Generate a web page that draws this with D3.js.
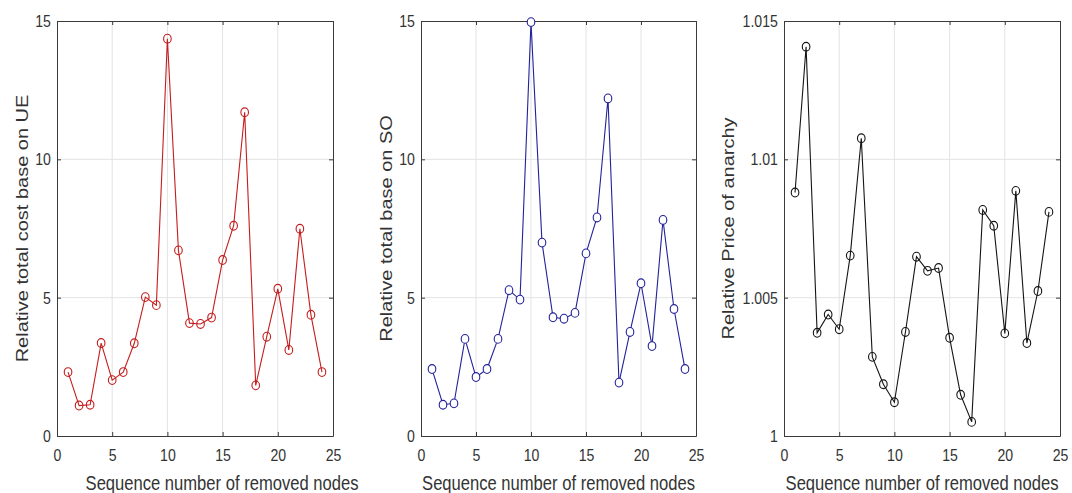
<!DOCTYPE html>
<html>
<head>
<meta charset="utf-8">
<script src="https://cdn.jsdelivr.net/npm/d3@7"></script>
<style>
  body { margin: 0; background: #fff; }
  svg { display: block; }
  text { font-family: "Liberation Sans", Arial, Helvetica, sans-serif; fill: #333; }
</style>
</head>
<body>
<svg id="chart" width="1072" height="493"></svg>
<script>
// Sequence number of each removed node
const nodeSeq = [1, 2, 3, 4, 5, 6, 7, 8, 9, 10, 11, 12, 13, 14, 15, 16, 17, 18, 19, 20, 21, 22, 23, 24];

// Relative total cost under user equilibrium (UE)
const costUE = [2.31, 1.10, 1.13, 3.36, 2.02, 2.31, 3.35, 5.02, 4.73, 14.36, 6.71, 4.08,
                4.05, 4.28, 6.36, 7.60, 11.70, 1.83, 3.59, 5.32, 3.11, 7.49, 4.38, 2.31];

// Relative total cost under system optimum (SO)
const costSO = [2.42, 1.13, 1.18, 3.51, 2.13, 2.42, 3.51, 5.27, 4.93, 14.96, 6.99, 4.29,
                4.24, 4.45, 6.60, 7.90, 12.20, 1.93, 3.76, 5.52, 3.25, 7.81, 4.59, 2.42];

// Relative price of anarchy
const priceAnarchy = [1.0088, 1.01407, 1.00373, 1.00439, 1.00386, 1.00652, 1.01076, 1.00286,
                      1.00187, 1.00122, 1.00376, 1.00648, 1.00597, 1.00607, 1.00355, 1.00149,
                      1.00051, 1.00817, 1.0076, 1.00371, 1.00886, 1.00336, 1.00524, 1.0081];

// Tick values and labels
const xTicks = [0, 5, 10, 15, 20, 25];
const xTickLabels = ["0", "5", "10", "15", "20", "25"];
const yTicksCost = [0, 5, 10, 15];
const yTickLabelsCost = ["0", "5", "10", "15"];
const yTicksPoA = [1, 1.005, 1.01, 1.015];
const yTickLabelsPoA = ["1", "1.005", "1.01", "1.015"];

// Axis titles
const xTitle = "Sequence number of removed nodes";
const yTitles = ["Relative total cost base on UE", "Relative total base on SO", "Relative Price of anarchy"];

// Panel layout (pixel frames and styling)
const TEXT_SQUEEZE = 0.83;   // narrow face of the typography
const panels = [
  { values: costUE, yDomain: [0, 15], yTicks: yTicksCost, yTickLabels: yTickLabelsCost,
    title: yTitles[0], color: "#c41d1d", fill: "none",
    left: 57, right: 333, titleX: 28, xTitleCenter: 222 },
  { values: costSO, yDomain: [0, 15], yTicks: yTicksCost, yTickLabels: yTickLabelsCost,
    title: yTitles[1], color: "#22229a", fill: "#fff",
    left: 421, right: 696, titleX: 392, xTitleCenter: 558.5 },
  { values: priceAnarchy, yDomain: [1, 1.015], yTicks: yTicksPoA, yTickLabels: yTickLabelsPoA,
    title: yTitles[2], color: "#141414", fill: "none",
    left: 784, right: 1060, titleX: 734, xTitleCenter: 922 }
];
const plotTop = 21, plotBottom = 436;

const svg = d3.select("#chart");

panels.forEach(p => {
  const x = d3.scaleLinear().domain([0, 25]).range([p.left, p.right]);
  const y = d3.scaleLinear().domain(p.yDomain).range([plotBottom, plotTop]);
  const g = svg.append("g");

  // grid
  g.append("g").selectAll("line")
    .data(xTicks.slice(1, -1)).join("line")
    .attr("x1", d => x(d)).attr("x2", d => x(d))
    .attr("y1", plotTop).attr("y2", plotBottom)
    .attr("stroke", "#e3e3e3").attr("stroke-width", 1);
  g.append("g").selectAll("line")
    .data(p.yTicks.slice(1, -1)).join("line")
    .attr("x1", p.left).attr("x2", p.right)
    .attr("y1", d => y(d)).attr("y2", d => y(d))
    .attr("stroke", "#e3e3e3").attr("stroke-width", 1);

  // axes with inward ticks on all four sides
  const fmtX = (d, i) => xTickLabels[i];
  const fmtY = (d, i) => p.yTickLabels[i];
  const axB = g.append("g").attr("transform", `translate(0,${plotBottom})`)
    .call(d3.axisBottom(x).tickValues(xTicks).tickFormat(fmtX).tickSizeInner(-4).tickSizeOuter(0).tickPadding(13));
  const axT = g.append("g").attr("transform", `translate(0,${plotTop})`)
    .call(d3.axisTop(x).tickValues(xTicks).tickFormat("").tickSizeInner(-4).tickSizeOuter(0));
  const axL = g.append("g").attr("transform", `translate(${p.left},0)`)
    .call(d3.axisLeft(y).tickValues(p.yTicks).tickFormat(fmtY).tickSizeInner(-4).tickSizeOuter(0).tickPadding(7.4));
  const axR = g.append("g").attr("transform", `translate(${p.right},0)`)
    .call(d3.axisRight(y).tickValues(p.yTicks).tickFormat("").tickSizeInner(-4).tickSizeOuter(0));

  [axB, axT, axL, axR].forEach(a => {
    a.select(".domain").attr("stroke", "#3a3a3a").attr("stroke-width", 1);
    a.selectAll(".tick line").attr("stroke", "#3a3a3a");
    a.selectAll(".tick text")
      .attr("font-size", 17)
      .attr("font-family", "'Liberation Sans', Arial, sans-serif")
      .attr("fill", "#3a3a3a")
      .attr("transform", `scale(${TEXT_SQUEEZE},1)`);
  });

  // data line
  const line = d3.line().x((d, i) => x(nodeSeq[i])).y(d => y(d));
  g.append("path")
    .datum(p.values)
    .attr("d", line)
    .attr("fill", "none")
    .attr("stroke", p.color)
    .attr("stroke-width", 1.1);

  // circle markers
  g.append("g").selectAll("ellipse")
    .data(p.values).join("ellipse")
    .attr("cx", (d, i) => x(nodeSeq[i]))
    .attr("cy", d => y(d))
    .attr("rx", 3.8).attr("ry", 4.4)
    .attr("fill", p.fill)
    .attr("stroke", p.color)
    .attr("stroke-width", 1.1);

  // axis titles
  g.append("text")
    .attr("transform", `translate(${p.xTitleCenter},490) scale(${TEXT_SQUEEZE},1)`)
    .attr("text-anchor", "middle")
    .attr("font-size", 20)
    .text(xTitle);
  g.append("text")
    .attr("transform", `translate(${p.titleX},${(plotTop + plotBottom) / 2}) rotate(-90) scale(1,${TEXT_SQUEEZE})`)
    .attr("text-anchor", "middle")
    .attr("font-size", 20)
    .text(p.title);
});
</script>
</body>
</html>
